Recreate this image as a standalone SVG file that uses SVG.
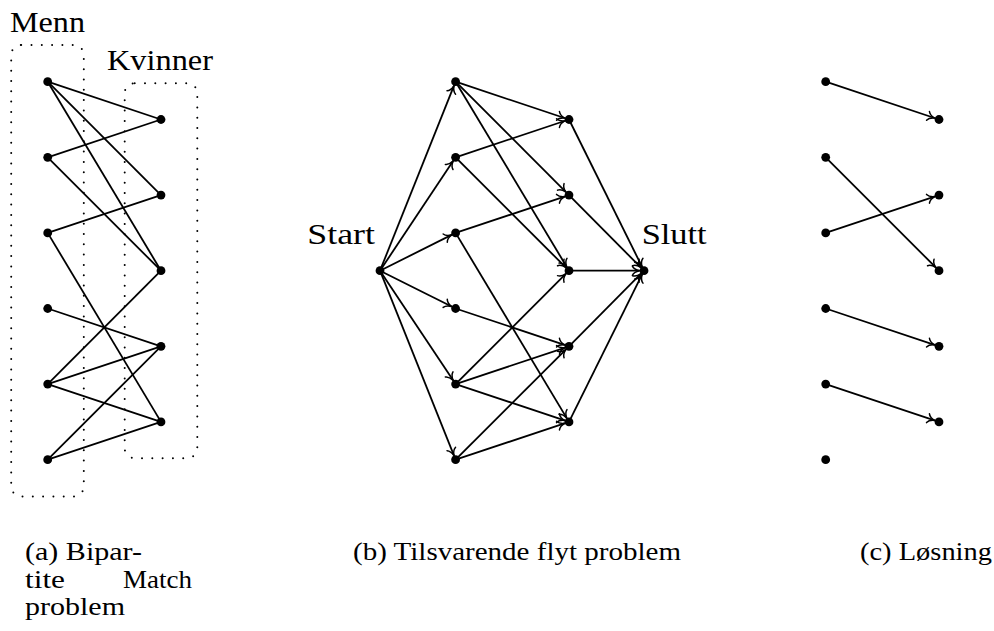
<svg xmlns="http://www.w3.org/2000/svg" width="994" height="631" viewBox="0 0 994 631">
<style>
.e{stroke:#000;stroke-width:1.8;fill:none}
.a{marker-end:url(#arr)}
.n{fill:#000}
.box{fill:none;stroke:#000;stroke-width:2;stroke-dasharray:0 10.3;stroke-linecap:round}
text{fill:#000}
</style>
<defs>
<marker id="arr" markerUnits="userSpaceOnUse" viewBox="-10 -6 20 12" markerWidth="20" markerHeight="12" refX="4.6" refY="0" orient="auto" overflow="visible">
<path d="M-7,-4.6 C-5.8,-2 -2.2,-0.5 0,0 C-2.2,0.5 -5.8,2 -7,4.6" fill="none" stroke="#000" stroke-width="1.5" stroke-linecap="round"/>
</marker>
</defs>

<g id="boxes">
<rect id="menn-box" class="box" x="11.2" y="45" width="72.6" height="451.4" rx="10"/>
<rect id="kvinner-box" class="box" x="124.7" y="83.2" width="72.6" height="375" rx="10"/>
</g>

<g id="connectors">
<g id="edges-a" class="e">
<line x1="47.7" y1="81.7" x2="161" y2="119.5"/>
<line x1="47.7" y1="81.7" x2="161" y2="195.1"/>
<line x1="47.7" y1="81.7" x2="161" y2="270.7"/>
<line x1="47.7" y1="157.3" x2="161" y2="119.5"/>
<line x1="47.7" y1="157.3" x2="161" y2="270.7"/>
<line x1="47.7" y1="232.9" x2="161" y2="195.1"/>
<line x1="47.7" y1="232.9" x2="161" y2="421.9"/>
<line x1="47.7" y1="308.5" x2="161" y2="346.3"/>
<line x1="47.7" y1="384.1" x2="161" y2="270.7"/>
<line x1="47.7" y1="384.1" x2="161" y2="346.3"/>
<line x1="47.7" y1="384.1" x2="161" y2="421.9"/>
<line x1="47.7" y1="459.7" x2="161" y2="346.3"/>
<line x1="47.7" y1="459.7" x2="161" y2="421.9"/>
</g>
<g id="edges-b" class="e a">
<line x1="380" y1="270.7" x2="455.6" y2="81.7"/>
<line x1="380" y1="270.7" x2="455.6" y2="157.3"/>
<line x1="380" y1="270.7" x2="455.6" y2="232.9"/>
<line x1="380" y1="270.7" x2="455.6" y2="308.5"/>
<line x1="380" y1="270.7" x2="455.6" y2="384.1"/>
<line x1="380" y1="270.7" x2="455.6" y2="459.7"/>
<line x1="455.6" y1="81.7" x2="569" y2="119.5"/>
<line x1="455.6" y1="81.7" x2="569" y2="195.1"/>
<line x1="455.6" y1="81.7" x2="569" y2="270.7"/>
<line x1="455.6" y1="157.3" x2="569" y2="119.5"/>
<line x1="455.6" y1="157.3" x2="569" y2="270.7"/>
<line x1="455.6" y1="232.9" x2="569" y2="195.1"/>
<line x1="455.6" y1="232.9" x2="569" y2="421.9"/>
<line x1="455.6" y1="308.5" x2="569" y2="346.3"/>
<line x1="455.6" y1="384.1" x2="569" y2="270.7"/>
<line x1="455.6" y1="384.1" x2="569" y2="346.3"/>
<line x1="455.6" y1="384.1" x2="569" y2="421.9"/>
<line x1="455.6" y1="459.7" x2="569" y2="346.3"/>
<line x1="455.6" y1="459.7" x2="569" y2="421.9"/>
<line x1="569" y1="119.5" x2="644" y2="270.7"/>
<line x1="569" y1="195.1" x2="644" y2="270.7"/>
<line x1="569" y1="270.7" x2="644" y2="270.7"/>
<line x1="569" y1="346.3" x2="644" y2="270.7"/>
<line x1="569" y1="421.9" x2="644" y2="270.7"/>
</g>
<g id="edges-c" class="e a">
<line x1="825.7" y1="81.7" x2="939" y2="119.5"/>
<line x1="825.7" y1="157.3" x2="939" y2="270.7"/>
<line x1="825.7" y1="232.9" x2="939" y2="195.1"/>
<line x1="825.7" y1="308.5" x2="939" y2="346.3"/>
<line x1="825.7" y1="384.1" x2="939" y2="421.9"/>
</g>
</g>

<g id="nodes-a" class="n">
<g id="a-m1"><circle cx="47.7" cy="81.7" r="4.4"/></g>
<g id="a-m2"><circle cx="47.7" cy="157.3" r="4.4"/></g>
<g id="a-m3"><circle cx="47.7" cy="232.9" r="4.4"/></g>
<g id="a-m4"><circle cx="47.7" cy="308.5" r="4.4"/></g>
<g id="a-m5"><circle cx="47.7" cy="384.1" r="4.4"/></g>
<g id="a-m6"><circle cx="47.7" cy="459.7" r="4.4"/></g>
<g id="a-w1"><circle cx="161" cy="119.5" r="4.4"/></g>
<g id="a-w2"><circle cx="161" cy="195.1" r="4.4"/></g>
<g id="a-w3"><circle cx="161" cy="270.7" r="4.4"/></g>
<g id="a-w4"><circle cx="161" cy="346.3" r="4.4"/></g>
<g id="a-w5"><circle cx="161" cy="421.9" r="4.4"/></g>
</g>

<g id="nodes-b" class="n">
<g id="b-start"><circle cx="380" cy="270.7" r="4.4"/></g>
<g id="b-slutt"><circle cx="644" cy="270.7" r="4.4"/></g>
<g id="b-m1"><circle cx="455.6" cy="81.7" r="4.4"/></g>
<g id="b-m2"><circle cx="455.6" cy="157.3" r="4.4"/></g>
<g id="b-m3"><circle cx="455.6" cy="232.9" r="4.4"/></g>
<g id="b-m4"><circle cx="455.6" cy="308.5" r="4.4"/></g>
<g id="b-m5"><circle cx="455.6" cy="384.1" r="4.4"/></g>
<g id="b-m6"><circle cx="455.6" cy="459.7" r="4.4"/></g>
<g id="b-w1"><circle cx="569" cy="119.5" r="4.4"/></g>
<g id="b-w2"><circle cx="569" cy="195.1" r="4.4"/></g>
<g id="b-w3"><circle cx="569" cy="270.7" r="4.4"/></g>
<g id="b-w4"><circle cx="569" cy="346.3" r="4.4"/></g>
<g id="b-w5"><circle cx="569" cy="421.9" r="4.4"/></g>
</g>

<g id="nodes-c" class="n">
<g id="c-m1"><circle cx="825.7" cy="81.7" r="4.4"/></g>
<g id="c-m2"><circle cx="825.7" cy="157.3" r="4.4"/></g>
<g id="c-m3"><circle cx="825.7" cy="232.9" r="4.4"/></g>
<g id="c-m4"><circle cx="825.7" cy="308.5" r="4.4"/></g>
<g id="c-m5"><circle cx="825.7" cy="384.1" r="4.4"/></g>
<g id="c-m6"><circle cx="825.7" cy="459.7" r="4.4"/></g>
<g id="c-w1"><circle cx="939" cy="119.5" r="4.4"/></g>
<g id="c-w2"><circle cx="939" cy="195.1" r="4.4"/></g>
<g id="c-w3"><circle cx="939" cy="270.7" r="4.4"/></g>
<g id="c-w4"><circle cx="939" cy="346.3" r="4.4"/></g>
<g id="c-w5"><circle cx="939" cy="421.9" r="4.4"/></g>
</g>

<g id="labels" font-family="'Liberation Serif', 'DejaVu Serif', 'Times New Roman', serif" font-size="30">
<text x="10" y="32.3" textLength="75" lengthAdjust="spacingAndGlyphs">Menn</text>
<text x="107" y="70" textLength="106" lengthAdjust="spacingAndGlyphs">Kvinner</text>
<text x="307.3" y="244" textLength="67.7" lengthAdjust="spacingAndGlyphs">Start</text>
<text x="641.7" y="244" textLength="65" lengthAdjust="spacingAndGlyphs">Slutt</text>
</g>

<g id="captions" font-family="'Liberation Serif', 'DejaVu Serif', 'Times New Roman', serif" font-size="26">
<text x="25" y="560" textLength="117" lengthAdjust="spacingAndGlyphs">(a) Bipar-</text>
<text x="25" y="587.5" textLength="40" lengthAdjust="spacingAndGlyphs">tite</text>
<text x="123" y="587.5" textLength="69" lengthAdjust="spacingAndGlyphs">Match</text>
<text x="25" y="615" textLength="100" lengthAdjust="spacingAndGlyphs">problem</text>
<text x="353" y="560" textLength="328" lengthAdjust="spacingAndGlyphs">(b) Tilsvarende flyt problem</text>
<text x="860" y="560" textLength="132" lengthAdjust="spacingAndGlyphs">(c) Løsning</text>
</g>
</svg>
